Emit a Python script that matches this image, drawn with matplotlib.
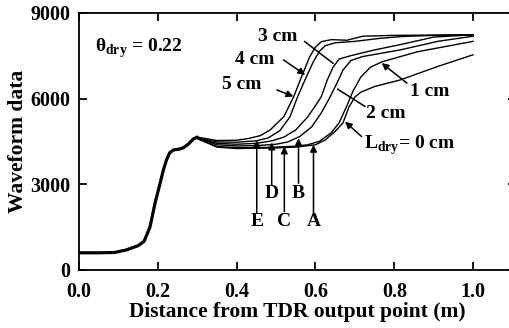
import matplotlib
matplotlib.use("Agg")
import matplotlib.pyplot as plt

plt.rcParams['font.family'] = ['Liberation Serif', 'DejaVu Serif']
plt.rcParams['font.weight'] = 'bold'
plt.rcParams['mathtext.fontset'] = 'custom'
plt.rcParams['mathtext.rm'] = 'Liberation Serif'
plt.rcParams['mathtext.bf'] = 'Liberation Serif:bold'

# shared part of the waveform (launch step, probe head)
x_common = [0.0, 0.05, 0.09, 0.12, 0.15, 0.165, 0.18, 0.193, 0.206, 0.214,
            0.222, 0.23, 0.24, 0.255, 0.265, 0.277, 0.29, 0.30]
y_common = [600, 600, 610, 700, 850, 1000, 1500, 2350, 3050, 3500,
            3850, 4100, 4200, 4230, 4280, 4400, 4580, 4650]

# waveforms for each dry-layer thickness
x5 = [0.30, 0.35, 0.40, 0.43, 0.46, 0.485, 0.52, 0.545, 0.565, 0.585, 0.60, 0.615, 0.64, 0.68, 0.72, 0.80, 0.90, 1.00]
y5 = [4650, 4530, 4540, 4600, 4700, 4900, 5370, 6070, 6770, 7450, 7800, 7990, 8060, 8040, 8180, 8210, 8220, 8230]

x4 = [0.30, 0.35, 0.40, 0.45, 0.48, 0.51, 0.535, 0.555, 0.575, 0.595, 0.61, 0.625, 0.65, 0.70, 0.76, 0.82, 0.90, 1.00]
y4 = [4640, 4480, 4470, 4520, 4620, 4880, 5350, 6070, 6700, 7300, 7650, 7850, 7950, 8000, 8100, 8170, 8210, 8230]

x3 = [0.30, 0.35, 0.40, 0.45, 0.49, 0.52, 0.55, 0.58, 0.60, 0.615, 0.63, 0.645, 0.66, 0.69, 0.75, 0.82, 0.90, 1.00]
y3 = [4630, 4430, 4400, 4430, 4520, 4650, 4900, 5350, 5750, 6070, 6650, 7100, 7380, 7500, 7700, 7900, 8150, 8230]

x2 = [0.30, 0.35, 0.40, 0.45, 0.50, 0.53, 0.56, 0.59, 0.615, 0.635, 0.655, 0.67, 0.69, 0.72, 0.815, 0.91, 1.00]
y2 = [4620, 4380, 4340, 4350, 4400, 4480, 4670, 5000, 5500, 6000, 6550, 7000, 7330, 7470, 7700, 8000, 8180]

x1 = [0.30, 0.35, 0.40, 0.45, 0.50, 0.55, 0.58, 0.61, 0.64, 0.66, 0.68, 0.695, 0.715, 0.74, 0.77, 0.86, 1.00]
y1 = [4600, 4320, 4280, 4280, 4300, 4330, 4380, 4500, 4800, 5150, 5750, 6250, 6750, 7100, 7290, 7640, 8000]

x0 = [0.30, 0.35, 0.40, 0.45, 0.50, 0.55, 0.60, 0.625, 0.65, 0.67, 0.685, 0.70, 0.715, 0.75, 0.815, 0.91, 1.00]
y0 = [4600, 4300, 4250, 4260, 4270, 4300, 4380, 4550, 4850, 5150, 5700, 6050, 6220, 6420, 6650, 7120, 7530]

# reflection markers A-E
marker_labels = ['A', 'B', 'C', 'D', 'E']
marker_x = [0.595, 0.557, 0.521, 0.489, 0.451]
marker_tip = [4380, 4610, 4320, 4460, 4550]
marker_base = [1985, 3035, 2040, 2975, 1995]
marker_text_y = [1690, 2685, 1690, 2685, 1690]

fig = plt.figure(figsize=(5.10, 3.28), dpi=100)
# right edge of the frame sits just past the figure border
ax = fig.add_axes([0.155, 0.177, 0.856, 0.784])

ax.plot(x_common, y_common, color='black', lw=2.3, solid_capstyle='round')
for xs, ys in [(x5, y5), (x4, y4), (x3, y3), (x2, y2), (x1, y1), (x0, y0)]:
    ax.plot(xs, ys, color='black', lw=1.0)

ax.set_xlim(0, 1.108)
ax.set_ylim(0, 9000)
ax.set_xticks([0.0, 0.2, 0.4, 0.6, 0.8, 1.0])
ax.set_xticklabels(['0.0', '0.2', '0.4', '0.6', '0.8', '1.0'])
ax.set_yticks([0, 3000, 6000, 9000])
ax.tick_params(direction='in', length=6, width=1.3, top=True, right=True,
               labelsize=14.5)
ax.tick_params(axis='x', pad=9)
ax.tick_params(axis='y', pad=6)
for sp in ax.spines.values():
    sp.set_linewidth(1.3)

ax.set_xlabel('Distance from TDR output point (m)', fontsize=15.5, fontweight='bold', labelpad=0)
ax.set_ylabel('Waveform data', fontsize=15.5, fontweight='bold', labelpad=2)

fs = 14
ax.text(0.04, 7770, r'$\mathrm{θ}_{\mathbf{dry}}$ = 0.22', fontsize=fs, va='center', ha='left')

arrow = dict(arrowstyle='-|>', color='black', lw=1.1, mutation_scale=10, shrinkA=0, shrinkB=0)
plain = dict(arrowstyle='-', color='black', lw=1.1, shrinkA=0, shrinkB=0)

# vertical markers
for lab, mx, tip, base, ty in zip(marker_labels, marker_x, marker_tip, marker_base, marker_text_y):
    ax.annotate('', xy=(mx, tip), xytext=(mx, base), arrowprops=arrow)
    ax.text(mx, ty, lab, fontsize=fs, ha='center', va='center')

# curve labels
ax.text(0.503, 8160, '3 cm', fontsize=fs, ha='center', va='center')
ax.annotate('', xy=(0.645, 7230), xytext=(0.572, 8000), arrowprops=plain)
ax.text(0.445, 7350, '4 cm', fontsize=fs, ha='center', va='center')
ax.annotate('', xy=(0.574, 6830), xytext=(0.519, 7350), arrowprops=arrow)
ax.text(0.414, 6480, '5 cm', fontsize=fs, ha='center', va='center')
ax.annotate('', xy=(0.544, 6070), xytext=(0.502, 6300), arrowprops=arrow)
ax.text(0.779, 5490, '2 cm', fontsize=fs, ha='center', va='center')
ax.annotate('', xy=(0.656, 6330), xytext=(0.726, 5720), arrowprops=plain)
ax.text(0.891, 6240, '1 cm', fontsize=fs, ha='center', va='center')
ax.annotate('', xy=(0.768, 7240), xytext=(0.832, 6540), arrowprops=arrow)
ax.text(0.838, 4380, r'$\mathbf{L}_{\mathbf{dry}}$= 0 cm', fontsize=fs, ha='center', va='center')
ax.annotate('', xy=(0.675, 5190), xytext=(0.717, 4670), arrowprops=arrow)

fig.savefig('out.png', dpi=100)
